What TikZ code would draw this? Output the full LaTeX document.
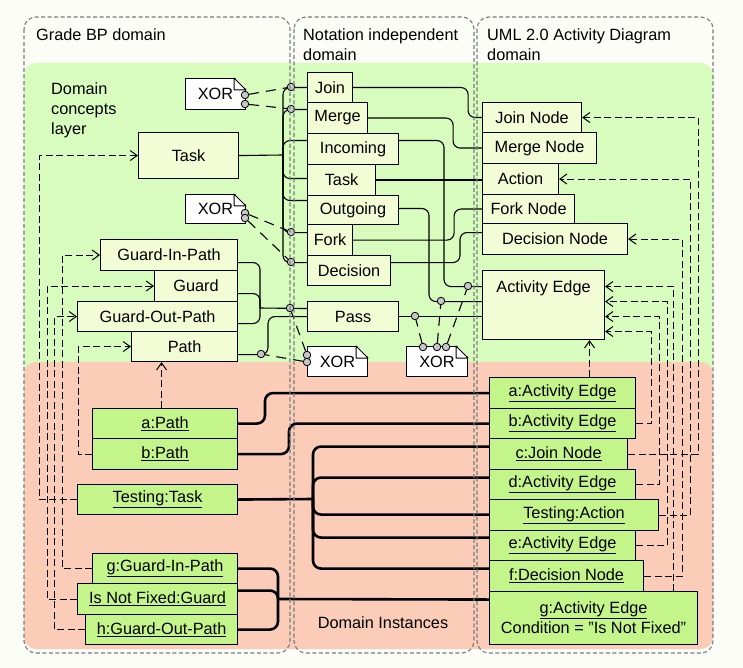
\documentclass[tikz,border=0pt]{standalone}
\usepackage{fontspec}
\setmainfont{Liberation Sans}
\usetikzlibrary{arrows.meta, calc}

\definecolor{pagebg}{RGB}{252,253,246}
\definecolor{layerconcept}{RGB}{216,252,189}
\definecolor{layerinst}{RGB}{251,204,183}
\definecolor{conceptfill}{RGB}{243,253,213}
\definecolor{instfill}{RGB}{196,245,139}
\definecolor{laneline}{RGB}{118,126,126}

\pgfdeclarelayer{bands}
\pgfdeclarelayer{wires}
\pgfsetlayers{bands,wires,main}

\tikzset{
  concept/.style={draw, fill=conceptfill, line width=1.1pt, inner sep=0pt, anchor=north west},
  instance/.style={draw, fill=instfill, line width=1.1pt, inner sep=0pt, anchor=north west},
  xornote/.style={draw, fill=white, line width=1pt, inner sep=0pt, anchor=north west},
  joint/.style={circle, draw, fill=black!22, line width=0.8pt, inner sep=0pt, minimum size=7.5pt},
  link/.style={line width=1.1pt, rounded corners=7pt},
  instlink/.style={line width=2.6pt, rounded corners=8pt},
  xorlink/.style={line width=1.1pt, dash pattern=on 10pt off 7pt},
  instof/.style={line width=1pt, dash pattern=on 7pt off 3.5pt, -{Straight Barb[length=7pt,width=10pt]}},
  lane/.style={draw=laneline, line width=1.1pt, dash pattern=on 4pt off 2.5pt, rounded corners=12pt},
}

\begin{document}
\begin{tikzpicture}[x=1pt, y=-1pt, font=\fontsize{16.3}{20}\selectfont]
  \useasboundingbox (0,0) rectangle (743,668);

  % Layers
  \begin{pgfonlayer}{bands}
    \fill[pagebg] (0,0) rectangle (743,668);
    \fill[layerconcept, rounded corners=12pt] (24,63) rectangle (713,376);
    \fill[layerinst, rounded corners=12pt] (24,362) rectangle (713,649);
  \end{pgfonlayer}

  % Grade BP concepts
  \node[concept, minimum width=100pt, minimum height=46pt] (taskG) at (138,132) {Task};
  \node[concept, minimum width=137pt, minimum height=31pt] (guardIn) at (100,239) {Guard-In-Path};
  \node[concept, minimum width=83pt, minimum height=31pt] (guard) at (154,270) {Guard};
  \node[concept, minimum width=160pt, minimum height=30pt] (guardOut) at (77,301) {Guard-Out-Path};
  \node[concept, minimum width=106pt, minimum height=30pt] (path) at (131,331) {Path};

  % Notation independent concepts
  \node[concept, minimum width=45pt, minimum height=30pt] (join) at (307,72) {Join};
  \node[concept, minimum width=60pt, minimum height=31pt] (merge) at (307,102) {Merge};
  \node[concept, minimum width=91pt, minimum height=31pt] (incoming) at (307,133) {Incoming};
  \node[concept, minimum width=68pt, minimum height=31pt] (taskN) at (307,164) {Task};
  \node[concept, minimum width=91pt, minimum height=29pt] (outgoing) at (307,195) {Outgoing};
  \node[concept, minimum width=45pt, minimum height=31pt] (fork) at (307,224) {Fork};
  \node[concept, minimum width=83pt, minimum height=30pt] (decision) at (307,255) {Decision};
  \node[concept, minimum width=91pt, minimum height=30pt] (pass) at (307,301) {Pass};

  % UML concepts
  \node[concept, minimum width=99pt, minimum height=30pt] (joinNode) at (482,102) {Join Node};
  \node[concept, minimum width=114pt, minimum height=31pt] (mergeNode) at (482,132) {Merge Node};
  \node[concept, minimum width=76pt, minimum height=31pt] (action) at (482,163) {Action};
  \node[concept, minimum width=92pt, minimum height=29pt] (forkNode) at (482,194) {Fork Node};
  \node[concept, minimum width=145pt, minimum height=31pt] (decisionNode) at (482,223) {Decision Node};
  \node[concept, minimum width=122pt, minimum height=69pt] (edge) at (482,270) {};
  \node[anchor=north, inner sep=0pt] (edgeName) at ([yshift=-10pt]edge.north) {Activity Edge};

  % Instances
  \node[instance, minimum width=145pt, minimum height=30pt] (aPath) at (92,408) {\underline{a:Path}};
  \node[instance, minimum width=145pt, minimum height=31pt] (bPath) at (92,438) {\underline{b:Path}};
  \node[instance, minimum width=160pt, minimum height=30pt] (testTask) at (77,484) {\underline{Testing:Task}};
  \node[instance, minimum width=145pt, minimum height=30pt] (gGuardIn) at (92,553) {\underline{g:Guard-In-Path}};
  \node[instance, minimum width=160pt, minimum height=31pt] (notFixed) at (77,583) {\underline{Is Not Fixed:Guard}};
  \node[instance, minimum width=152pt, minimum height=30pt] (hGuardOut) at (85,614) {\underline{h:Guard-Out-Path}};

  \node[instance, minimum width=146pt, minimum height=31pt] (aEdge) at (489,377) {\underline{a:Activity Edge}};
  \node[instance, minimum width=146pt, minimum height=30pt] (bEdge) at (489,408) {\underline{b:Activity Edge}};
  \node[instance, minimum width=138pt, minimum height=31pt] (cJoin) at (489,438) {\underline{c:Join Node}};
  \node[instance, minimum width=146pt, minimum height=30pt] (dEdge) at (489,469) {\underline{d:Activity Edge}};
  \node[instance, minimum width=169pt, minimum height=31pt] (testAction) at (489,499) {\underline{Testing:Action}};
  \node[instance, minimum width=146pt, minimum height=30pt] (eEdge) at (489,530) {\underline{e:Activity Edge}};
  \node[instance, minimum width=154pt, minimum height=31pt] (fDecision) at (489,560) {\underline{f:Decision Node}};
  \node[instance, minimum width=208pt, minimum height=53pt, align=center] (gEdge) at (489,591) {\underline{g:Activity Edge}\\Condition = "Is Not Fixed"};

  % XOR notes
  \node[xornote, minimum width=60pt, minimum height=31pt] (xorJoin) at (185,78) {XOR};
  \node[xornote, minimum width=60pt, minimum height=29pt] (xorFork) at (185,194) {XOR};
  \node[xornote, minimum width=60pt, minimum height=30pt] (xorPass) at (307,346) {XOR};
  \node[xornote, minimum width=61pt, minimum height=30pt] (xorEdge) at (406,346) {XOR};
  \foreach \n in {xorJoin, xorFork, xorPass, xorEdge} {
    \fill[layerconcept] ($(\n.north east)+(-12,-1)$) -- ($(\n.north east)+(1,-1)$) -- ($(\n.north east)+(1,12)$) -- cycle;
    \draw[line width=1pt, line join=round] ($(\n.north east)+(-12,0)$) -- ($(\n.north east)+(0,12)$) -- ++(-12,0) -- cycle;
  }

  % Joints
  \node[joint] (jJoin) at (291,87) {};
  \node[joint] (jMerge) at (291,109) {};
  \node[joint] (jFork) at (291,232) {};
  \node[joint] (jDecision) at (291,262) {};
  \node[joint] (jGuard) at (290,308) {};
  \node[joint] (jPath) at (261,354) {};
  \node[joint] (jPass) at (415,316) {};
  \node[joint] (jOut) at (441,301) {};
  \node[joint] (jIn) at (468,286) {};
  \node[joint] (xJoin1) at (245,95) {};
  \node[joint] (xJoin2) at (245,104) {};
  \node[joint] (xFork1) at (245,213) {};
  \node[joint] (xFork2) at (245,218) {};
  \node[joint] (xPass1) at (307,355) {};
  \node[joint] (xPass2) at (307,362) {};
  \node[joint] (xEdge1) at (423,347) {};
  \node[joint] (xEdge2) at (437,347) {};
  \node[joint] (xEdge3) at (446,347) {};

  \begin{pgfonlayer}{wires}
    % Grade BP task to notation concepts
    \coordinate (taskBus) at (283,155);
    \draw[link] (taskG.east) -- (taskBus);
    \foreach \nm/\dy in {join/0, merge/8.5, incoming/8.5, taskN/1.5, outgoing/9.5, fork/7.5, decision/8}
      \draw[link] (taskBus) |- ([yshift=\dy pt]\nm.west);

    % XOR constraints
    \draw[xorlink] (xJoin1) -- (jJoin);
    \draw[xorlink] (xJoin2) -- (jMerge);
    \draw[xorlink] (xFork1) -- (jFork);
    \draw[xorlink] (xFork2) -- (jDecision);
    \draw[xorlink] (xPass1) -- (jGuard);
    \draw[xorlink] (xPass2) -- (jPath);
    \draw[xorlink] (xEdge1) -- (jPass);
    \draw[xorlink] (xEdge2) -- (jOut);
    \draw[xorlink] (xEdge3) -- (jIn);

    % Guards and path to pass
    \coordinate (guardBus) at (260,308);
    \draw[link] ([yshift=-7.5pt]guardIn.east) -| (guardBus);
    \draw[link] ([yshift=-7.5pt]guard.east) -| (guardBus);
    \draw[link] ([yshift=-7pt]guardOut.east) -| (guardBus);
    \draw[link] (guardBus) -- ([yshift=8pt]pass.west);
    \draw[link] ([yshift=-8pt]path.east) -| ([xshift=-39pt]pass.west) -- (pass.west);

    % Notation concepts to UML
    \draw[link] (join.east) -- ++(115,0) |- (joinNode.west);
    \draw[link] (merge.east) -- ++(85,0) |- (mergeNode.west);
    \draw[link] ([yshift=8.5pt]incoming.east) -| ([xshift=-38pt,yshift=18.5pt]edge.west) -- ([yshift=18.5pt]edge.west);
    \draw[link] (taskN.east) -- (taskN.east -| action.west);
    \draw[link] ([yshift=1.5pt]outgoing.east) -| ([xshift=-53pt,yshift=3.5pt]edge.west) -- ([yshift=3.5pt]edge.west);
    \draw[link] (fork.east) -- ++(101,0) |- (forkNode.west);
    \draw[link] ([yshift=8pt]decision.east) -| ([xshift=-22pt,yshift=6.5pt]decisionNode.west) -- ([yshift=6.5pt]decisionNode.west);
    \draw[link] (pass.east) -- ([yshift=-11.5pt]edge.west);

    % Instance of, Grade BP side
    \draw[instof] (testTask.west) -- ++(-38,0) |- (taskG.west);
    \draw[instof] (gGuardIn.west) -- ++(-30,0) |- (guardIn.west);
    \draw[instof] (notFixed.west) -- ++(-30,0) |- (guard.west);
    \draw[instof] (hGuardOut.west) -- ++(-31,0) |- (guardOut.west);
    \draw[instof] (bPath.west) -- ++(-14,0) |- (path.west);
    \draw[instof] ([xshift=-3.5pt]aPath.north) -- ([xshift=-3.5pt]aPath.north |- path.south);

    % Instance of, UML side
    \draw[instof] (bEdge.east) -- ++(15,0) |- ([yshift=-26.5pt]edge.east);
    \draw[instof] (dEdge.east) -- ++(23,0) |- ([yshift=-11.5pt]edge.east);
    \draw[instof] (eEdge.east) -- ++(31,0) |- ([yshift=3.5pt]edge.east);
    \draw[instof] ([xshift=80pt]gEdge.north) |- ([yshift=18.5pt]edge.east);
    \draw[instof] (fDecision.east) -- ++(38,0) |- (decisionNode.east);
    \draw[instof] (testAction.east) -- ++(31,0) |- (action.east);
    \draw[instof] (cJoin.east) -- ++(70,0) |- (joinNode.east);
    \draw[instof] ([xshift=27pt]aEdge.north) -- ([xshift=27pt]aEdge.north |- edge.south);

    % Instance mappings
    \draw[instlink] (aPath.east) -| ([xshift=-224pt]aEdge.west) -- (aEdge.west);
    \draw[instlink] (bPath.east) -| ([xshift=-200pt]bEdge.west) -- (bEdge.west);
    \coordinate (testBus) at (313,499);
    \draw[instlink] (testTask.east) -- (testBus);
    \foreach \nm/\dy in {cJoin/7.5, dEdge/7, testAction/0.5, eEdge/8, fDecision/7.5}
      \draw[instlink] (testBus) |- ([yshift=\dy pt]\nm.west);
    \coordinate (guardBus2) at (278,599);
    \draw[instlink] (gGuardIn.east) -| (guardBus2);
    \draw[instlink] ([yshift=8.5pt]notFixed.east) -| (guardBus2);
    \draw[instlink] (hGuardOut.east) -| (guardBus2);
    \draw[instlink] (guardBus2) -- ([yshift=18.5pt]gEdge.west);
  \end{pgfonlayer}

  % Swim lanes
  \draw[lane] (24,17) rectangle (290,653);
  \draw[lane] (294,17) rectangle (474,653);
  \draw[lane] (477,17) rectangle (713,653);

  % Titles
  \node[anchor=north west, inner sep=0pt] (laneGrade) at (36,28) {Grade BP domain};
  \node[anchor=north west, inner sep=0pt, align=left] (laneNotation) at (303,28) {Notation independent\\domain};
  \node[anchor=north west, inner sep=0pt, align=left] (laneUml) at (487,28) {UML 2.0 Activity Diagram\\domain};
  \node[anchor=north west, inner sep=0pt, align=left] (conceptLayer) at (51,82) {Domain\\concepts\\layer};
  \node[inner sep=0pt] (instLayer) at (383,623) {Domain Instances};
\end{tikzpicture}
\end{document}
